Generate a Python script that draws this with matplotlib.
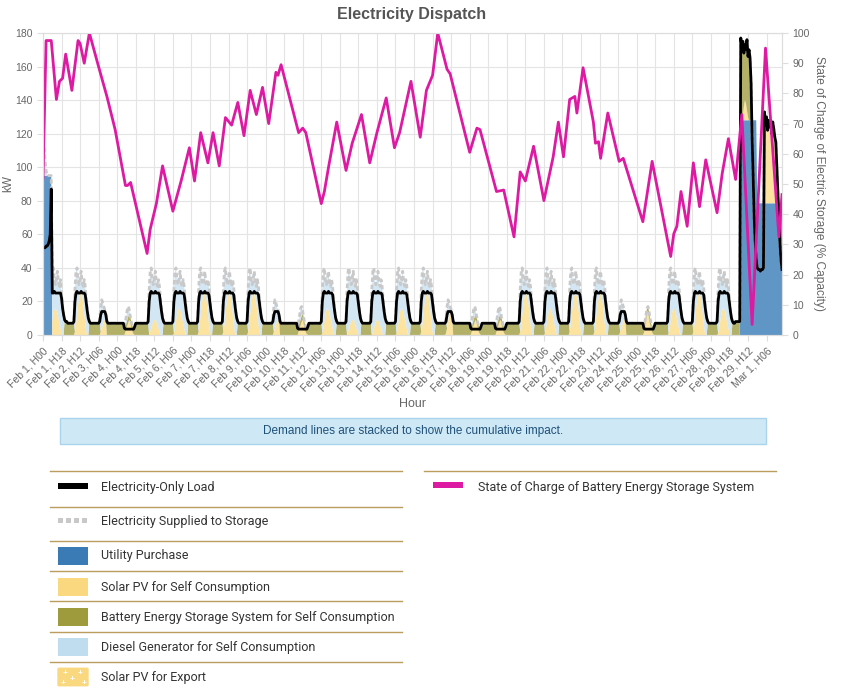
import numpy as np
import matplotlib
matplotlib.use("Agg")
import matplotlib.pyplot as plt
from matplotlib.patches import Rectangle, FancyBboxPatch
from matplotlib.lines import Line2D

plt.rcParams['font.family'] = ['Liberation Sans', 'DejaVu Sans']

# ---- hourly profiles (kW), one list per kind of day ----
load_weekday    = [7,7,7,7,7,7,8,20,25,26,25,25,25,26,25,25,25,24,19,14,10,8,7,7]
supply_weekday  = [7,7,7,7,7,7,8,27,38,40,33,30,34,38,31,29,33,29,21,15,10,8,7,7]
battery_weekday = [7,7,7,7,7,7,8,0,0,0,0,0,0,0,0,0,0,0,0,0,0,8,7,7]

load_sat    = [7,7,7,7,7,7,7,8,12,14,14,14,14,12,8,7,7,7,7,7,7,7,7,7]
supply_sat  = [7,7,7,7,7,7,7,9,17,21,19,17,15,12,8,7,7,7,7,7,7,7,7,7]
battery_sat = [7,7,7,7,7,7,7,8,0,0,0,0,0,0,8,7,7,7,7,7,7,7,7,7]

load_sun    = [7,7,7,7,7,7,7,4,3.5,3.5,3.5,3.5,3.5,3.5,3.5,3.5,3.5,5,7,7,7,7,7,7]
supply_sun  = [7,7,7,7,7,7,7,5,8,12,16,17,14,10,7,5,4,5,7,7,7,7,7,7]
battery_sun = [7,7,7,7,7,7,7,4,3.5,3.5,3.5,3.5,3.5,3.5,3.5,3.5,3.5,5,7,7,7,7,7,7]

solar_high = [0,0,0,0,0,0,0,2,6,12,18,22,25,25,23,19,13,7,2,0,0,0,0,0]
solar_mid  = [0,0,0,0,0,0,0,1,4,8,12,15,16,15,13,10,7,4,1,0,0,0,0,0]
solar_low  = [0,0,0,0,0,0,0,0,2,4,6,8,9,9,8,6,4,2,0,0,0,0,0,0]

# Feb 1 (start of the period, battery charged from the utility)
load_feb1    = [52,52,52,53,53,54,56,60,87,25,25,26,25,25,25,25,25,25,22,16,12,9,8,8]
supply_feb1  = [95,112,104,98,95,95,95,95,95,38,40,33,30,34,38,31,29,33,25,17,12,9,8,8]
utility_feb1 = [95,95,95,95,95,95,95,95,95,0,0,0,0,0,0,0,0,0,0,0,0,0,0,0]
battery_feb1 = [0,0,0,0,0,0,0,0,0,0,0,0,0,0,0,0,0,0,0,0,0,9,8,8]

# Feb 29 H00 .. Mar 1 H21
load_end = [8,8,8,8,8,
            177,172,175,168,173,170,176,166,170,165,
            150,117,95,70,55,45,40,
            39,39,38,39,39,40,
            133,125,130,122,128,124,126,120,127,123,118,
            115,100,85,70,55,45,39]
utility_end = [0,0,0,0,0] + [128]*16 + [78.5]*25
solar_end = [0,0,0,0,0,
             0,0,3,8,12,10,6,2,0,0,
             0,0,0,0,0,0,0,
             0,0,0,0,0,0,
             54,46,51,43,49,45,47,41,48,44,39,
             36,21,6,0,0,0,0]
battery_end = [8,8,8,8,8,
               49,44,44,32,33,32,42,36,42,37,
               22,0,0,0,0,0,0,
               0,0,0,0,0,0,
               0,0,0,0,0,0,0,0,0,0,0,
               0,0,0,0,0,0,0]

# kind of each day Feb 1..Feb 28 and how sunny it was
day_kind = ['F1','W','S','U','W','W','W','W','W','S','U','W','W','W',
            'W','W','S','U','U','W','W','W','W','S','U','W','W','W']
day_sun = ['M','H','L','L','L','M','H','H','H','L','L','M','L','L',
           'M','H','M','L','L','H','M','H','H','L','H','M','H','M']

# state of charge (%), turning points of the line
soc_hours = [0,3,8,13,16,19,22,28,34,36,40,45,53,62,70,80,82,85,101,104,110,116,
             126,134,142,147,153,160,165,171,177,183,189,195,201,207,213,219,226,
             228,231,248,252,255,270,273,277,285,294,300,309,317,324,333,341,346,
             357,366,372,378,383,392,395,414,421,424,440,447,457,463,468,476,486,
             495,500,505,511,516,518,524,534,536,539,541,548,559,563,582,591,609,
             612,615,619,625,631,637,643,654,659,665,672,678,688,701,714,717]
soc_values = [52,97.5,97.5,78,84,85,93,81,97.5,96.5,90,100,90,79,68,49.5,49.5,50.5,
              27,35,43.5,56,41,51,62,51,67,57,67,56,72,69.5,77,66,81,73,82,70,87,
              86,89.5,67,68.5,67,43.5,47.5,55.5,70.5,54.5,63.5,73,57,67,78.5,62,67,
              84,65.5,81,86,100,88,86.5,60.5,68.5,68,47.5,48,32.5,54,51,62.5,44.5,
              59,70.5,59,78,79,73.5,88.5,70.5,63.5,64,58.5,73.5,57.5,58.5,37.5,57.5,
              26,33.5,36,47.5,36,57,42.5,58,40.5,53.5,65,51.5,73,3.5,95,32.5,46.5]

# ---- assemble hourly series ----
profiles = {'W': (load_weekday, supply_weekday, battery_weekday),
            'S': (load_sat, supply_sat, battery_sat),
            'U': (load_sun, supply_sun, battery_sun)}
suns = {'H': solar_high, 'M': solar_mid, 'L': solar_low}

load, supply, utility, battery, solar = [], [], [], [], []
for kind, sky in zip(day_kind, day_sun):
    if kind == 'F1':
        load += load_feb1; supply += supply_feb1
        utility += utility_feb1; battery += battery_feb1
    else:
        l, s, b = profiles[kind]
        load += l; supply += s; battery += b
        utility += [0] * 24
    solar += suns[sky]
load += load_end; supply += load_end; utility += utility_end
battery += battery_end; solar += solar_end

load = np.array(load, float); supply = np.array(supply, float)
utility = np.array(utility, float); battery = np.array(battery, float)
solar = np.array(solar, float)
room = np.clip(supply - utility - battery, 0, None)
solar[:672] = np.minimum(solar[:672], room[:672])
diesel = np.clip(supply - utility - battery - solar, 0, None)
hours = np.arange(len(load))

# ---- figure ----
W, H = 842, 697
fig = plt.figure(figsize=(W / 100, H / 100), dpi=100)
fig.patch.set_facecolor('white')

def fx(x):
    return x / W

def fy(y):
    return 1 - y / H

ax = fig.add_axes([fx(43), fy(335), (782 - 43) / W, (335 - 33) / H])
ax.stackplot(hours, utility, solar, battery, diesel,
             colors=['#5f96c6', '#fce3a0', '#b3b168', '#d3e6f3'], linewidth=0)
ax.plot(hours, supply, color='#c9c9c9', lw=2.0, ls=(0, (1.6, 1.0)),
        dash_capstyle='butt')
ax.plot(hours, load, color='black', lw=2.0)
ax.set_xlim(0, len(hours) - 1)
ax.set_ylim(0, 180)
ax.set_yticks(range(0, 181, 20))

ticks = np.arange(0, len(hours), 18)
labels = []
for h in ticks:
    d, hh = divmod(int(h), 24)
    labels.append(f"Feb {d + 1}, H{hh:02d}" if d < 29 else f"Mar {d - 28}, H{hh:02d}")
ax.set_xticks(ticks)
ax.set_xticklabels(labels, rotation=45, ha='right', rotation_mode='anchor')
ax.grid(True, color='#e4e4e4', lw=0.8)
ax.set_axisbelow(True)
ax.tick_params(colors='#dddddd', labelcolor='#666666', labelsize=7.5, length=4, width=0.8)
for sp in ax.spines.values():
    sp.set_color('#dddddd')

ax2 = ax.twinx()
ax2.plot(soc_hours, soc_values, color='#dc1aa2', lw=2.0)
ax2.set_ylim(0, 100)
ax2.set_yticks(range(0, 101, 10))
ax2.tick_params(colors='#dddddd', labelcolor='#666666', labelsize=7.5, length=4, width=0.8)
for sp in ax2.spines.values():
    sp.set_color('#dddddd')

fig.text(fx(412), fy(15), 'Electricity Dispatch', ha='center', va='center',
         fontsize=11.5, fontweight='bold', color='#555555')
fig.text(fx(8), fy(184), 'kW', ha='center', va='center', rotation=90,
         fontsize=8.5, color='#666666')
fig.text(fx(819), fy(184), 'State of Charge of Electric Storage (% Capacity)',
         ha='center', va='center', rotation=270, fontsize=8.6, color='#666666')
fig.text(fx(413), fy(404), 'Hour', ha='center', va='center', fontsize=9, color='#666666')

# info box
fig.patches.append(Rectangle((fx(60), fy(444)), (766 - 60) / W, 26 / H,
                             transform=fig.transFigure, facecolor='#cfe8f6',
                             edgecolor='#a9d4ec', lw=1))
fig.text(fx(413), fy(431), 'Demand lines are stacked to show the cumulative impact.',
         ha='center', va='center', fontsize=8.5, color='#1e5178',
         family=['Liberation Sans Narrow', 'Liberation Sans', 'DejaVu Sans'])

# ---- custom legend ----
sep_color = '#bb9d5e'

def sep(x0, x1, y):
    fig.lines.append(Line2D([fx(x0), fx(x1)], [fy(y), fy(y)], transform=fig.transFigure,
                            color=sep_color, lw=1))

def label(x, y, s):
    fig.text(fx(x), fy(y), s, ha='left', va='center', fontsize=9, color='#333333',
             family=['Roboto', 'DejaVu Sans'])

def box(y0, y1, color, x0=58, x1=88):
    fig.patches.append(Rectangle((fx(x0), fy(y1)), (x1 - x0) / W, (y1 - y0) / H,
                                 transform=fig.transFigure, facecolor=color, lw=0))

legend_left = ['Electricity-Only Load', 'Electricity Supplied to Storage', 'Utility Purchase',
               'Solar PV for Self Consumption',
               'Battery Energy Storage System for Self Consumption',
               'Diesel Generator for Self Consumption', 'Solar PV for Export']
sep_y = [471, 507, 541, 571, 601, 632, 662]
text_y = [487, 522, 556, 587, 617, 647, 677]
for s, ys, yt in zip(legend_left, sep_y, text_y):
    sep(50, 402, ys)
    label(101, yt, s)

box(483, 489, 'black')
for x0 in (58, 66, 74, 82):
    box(518, 523, '#c8c8c8', x0, x0 + 5)
box(547, 565, '#3b7bb5')
box(578, 596, '#fad880')
box(608, 626, '#9d9b3c')
box(638, 656, '#c0dcef')
fig.patches.append(FancyBboxPatch((fx(59), fy(685)), 28 / W, 16 / H,
                                  boxstyle='round,pad=0.002', transform=fig.transFigure,
                                  facecolor='#fad880', edgecolor='none'))
for px_, py_ in [(65, 673), (80, 673), (72, 680), (63, 683), (84, 683)]:
    fig.text(fx(px_), fy(py_), '+', ha='center', va='center', fontsize=6,
             color='white', fontweight='bold')

sep(424, 776, 471)
box(482, 488, '#dc1aa2', 433, 463)
label(478, 487, 'State of Charge of Battery Energy Storage System')

fig.savefig('out.png', dpi=100)
